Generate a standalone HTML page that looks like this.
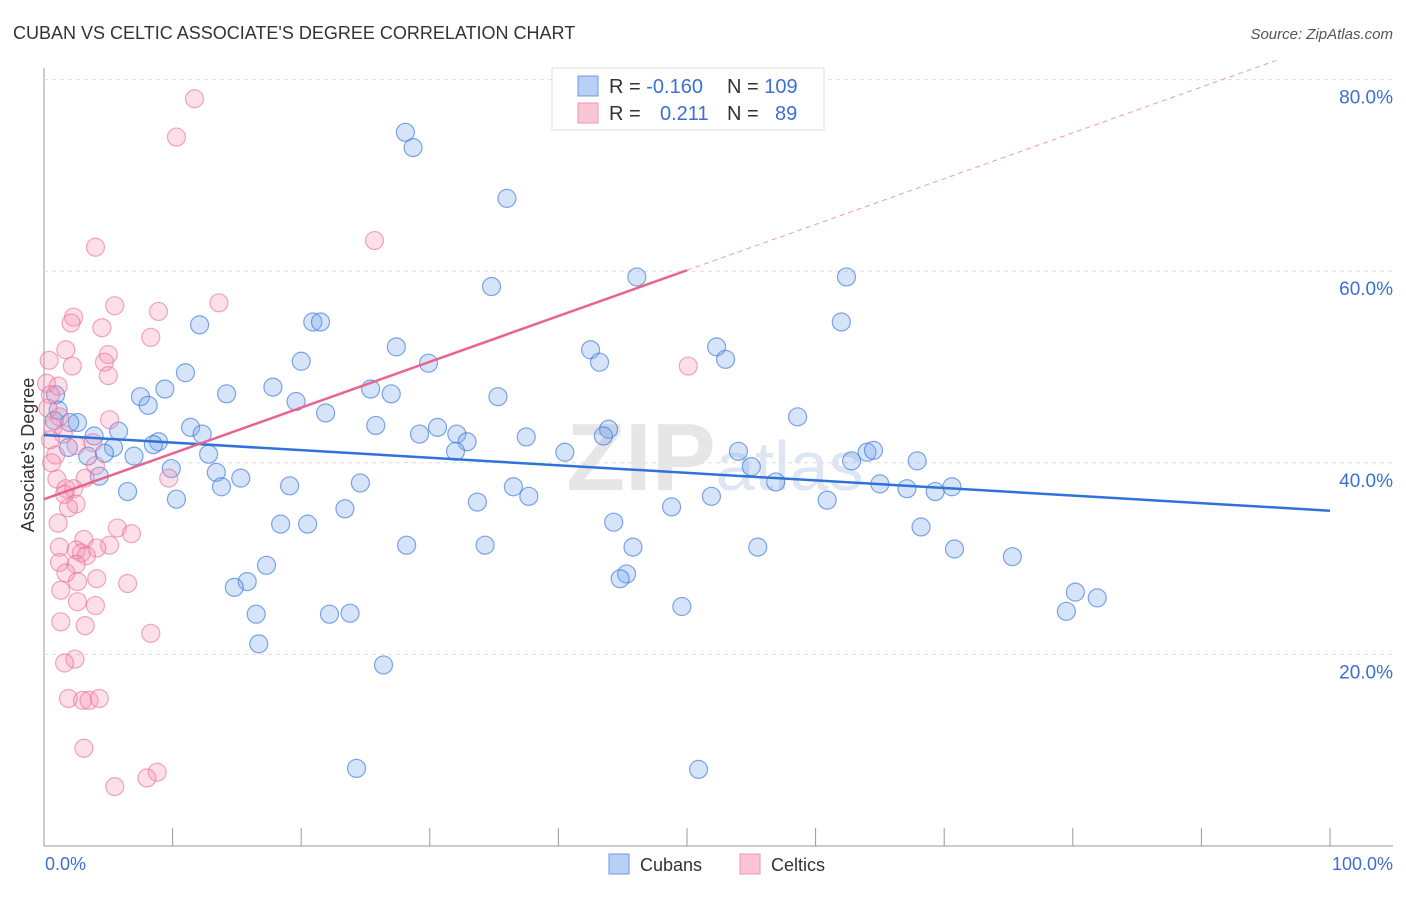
<!DOCTYPE html>
<html><head><meta charset="utf-8"><style>
body{margin:0;background:#fff;font-family:"Liberation Sans",sans-serif;}
svg text{font-family:"Liberation Sans",sans-serif;}
</style></head><body>
<svg id="c" width="1406" height="892">
<text x="13" y="39" font-size="18" fill="#333">CUBAN VS CELTIC ASSOCIATE'S DEGREE CORRELATION CHART</text>
<text x="1393" y="39" font-size="15" fill="#555" font-style="italic" text-anchor="end">Source: ZipAtlas.com</text>
<text x="715" y="490" font-size="96" fill="#e6e6e6" text-anchor="middle" font-weight="bold">ZIP<tspan fill="#dde6f2" font-weight="normal" font-size="70">atlas</tspan></text>
<g id="grid"></g><g id="pts"></g><g id="lines"></g>
<text transform="translate(34,455) rotate(-90)" font-size="18" fill="#333" text-anchor="middle">Associate's Degree</text>
<text x="45" y="870" font-size="18" fill="#3b6fd4">0.0%</text>
<text x="1393" y="870" font-size="18" fill="#3b6fd4" text-anchor="end">100.0%</text>
<g>
<rect x="552" y="68" width="272" height="62" fill="#fff" stroke="#ddd"/>
<rect x="578" y="76" width="20" height="20" fill="#b8d0f4" stroke="#6d9be0"/>
<rect x="578" y="103" width="20" height="20" fill="#f9c6d5" stroke="#ef94b2"/>
<text x="609" y="93" font-size="20" fill="#333">R = <tspan fill="#3b6fd4">-0.160</tspan><tspan x="727">N = </tspan><tspan fill="#3b6fd4">109</tspan></text>
<text x="609" y="120" font-size="20" fill="#333">R = <tspan x="660" fill="#3b6fd4">0.211</tspan><tspan x="727">N = </tspan><tspan x="775" fill="#3b6fd4">89</tspan></text>
</g>
<g><rect x="609" y="854" width="20" height="20" fill="#b8d0f4" stroke="#6d9be0"/><text x="640" y="871" font-size="18" fill="#333">Cubans</text></g>
<g><rect x="740" y="854" width="20" height="20" fill="#f9c6d5" stroke="#ef94b2"/><text x="771" y="871" font-size="18" fill="#333">Celtics</text></g>
</svg>
<script>
const yTicks=[20,40,60,80];
const yTickLabels=["20.0%","40.0%","60.0%","80.0%"];
const xTicks=[0,10,20,30,40,50,60,70,80,90,100];
const cubanX=[28.1,28.7,36.0,34.8,46.1,62.4,62.0,12.1,20.9,21.5,27.4,42.5,43.2,52.3,53.0,20.0,29.9,11.0,17.8,25.4,27.0,9.4,14.2,7.5,8.1,19.6,35.3,21.9,58.6,0.9,1.1,0.8,2.6,2.0,5.8,3.9,11.4,12.3,25.8,30.6,29.2,32.1,32.9,37.5,43.9,43.5,8.9,8.5,5.4,1.9,3.4,4.7,7.0,12.8,32.0,40.5,54.0,64.0,64.5,62.8,67.9,9.9,55.0,13.4,15.3,4.3,13.8,19.1,24.6,36.5,37.7,56.9,65.0,67.1,69.3,70.6,6.5,10.3,33.7,51.9,60.9,48.8,23.4,18.4,20.5,44.3,68.2,28.2,34.3,45.8,55.5,70.8,75.3,17.3,15.8,14.8,45.3,44.8,80.2,81.9,49.6,79.5,16.5,22.2,23.8,16.7,26.4,24.3,50.9];
const cubanY=[74.5,72.9,67.6,58.4,59.4,59.4,54.7,54.4,54.7,54.7,52.1,51.8,50.5,52.1,50.8,50.6,50.4,49.4,47.9,47.7,47.2,47.7,47.2,46.9,46.0,46.4,46.9,45.2,44.8,47.1,45.5,44.4,44.2,44.2,43.3,42.8,43.7,43.0,43.9,43.7,43.0,43.0,42.2,42.7,43.5,42.8,42.2,41.9,41.6,41.6,40.7,41.0,40.7,40.9,41.2,41.1,41.2,41.1,41.3,40.2,40.2,39.4,39.6,39.0,38.4,38.6,37.5,37.6,37.9,37.5,36.5,38.0,37.8,37.3,37.0,37.5,37.0,36.2,35.9,36.5,36.1,35.4,35.2,33.6,33.6,33.8,33.3,31.4,31.4,31.2,31.2,31.0,30.2,29.3,27.6,27.0,28.4,27.9,26.5,25.9,25.0,24.5,24.2,24.2,24.3,21.1,18.9,8.1,8.0];
const celticX=[11.7,10.3,4.0,25.7,13.6,5.5,8.9,2.3,2.1,4.5,8.3,1.7,5.0,0.4,4.7,2.2,50.1,5.0,0.2,1.1,0.5,0.3,1.2,5.1,0.7,1.5,0.5,3.8,2.5,0.9,0.6,4.0,1.0,3.2,9.7,1.7,2.3,1.6,2.5,1.9,1.1,5.7,3.1,6.8,5.1,1.2,4.1,2.5,2.9,3.3,1.2,2.5,1.7,4.1,2.6,6.5,1.3,2.6,4.0,1.3,3.2,8.3,2.4,1.6,1.9,3.0,3.5,4.3,3.1,8.8,8.0,5.5];
const celticY=[78.0,74.0,62.5,63.2,56.7,56.4,55.8,55.2,54.6,54.1,53.1,51.8,51.3,50.7,50.5,50.1,50.1,49.1,48.3,48.0,47.1,45.7,44.8,44.5,43.7,43.0,42.4,42.1,41.8,40.8,40.0,39.7,38.3,38.4,38.4,37.3,37.3,36.7,35.7,35.3,33.7,33.2,32.0,32.6,31.4,31.2,31.1,30.9,30.6,30.3,29.6,29.4,28.5,27.9,27.6,27.4,26.7,25.5,25.1,23.4,23.0,22.2,19.5,19.1,15.4,15.2,15.2,15.4,10.2,7.7,7.1,6.2];
const cubanTrend=[42.9,35.0];
const celticTrend=[36.2,60.1];
const X=v=>44+v*12.86, Y=v=>846-v*9.58;
const ns="http://www.w3.org/2000/svg";
function mk(t,a,p){const e=document.createElementNS(ns,t);for(const k in a)e.setAttribute(k,a[k]);p.appendChild(e);return e;}
const g=document.getElementById('grid');
mk('line',{x1:44,y1:68,x2:44,y2:846,stroke:'#999'},g);
const ax=mk('line',{x1:44,y1:846,x2:1393,y2:846,stroke:'#999'},g);

yTicks.forEach((v,i)=>{
 const l=mk('line',{x1:44,y1:Y(v),x2:1393,y2:Y(v),stroke:'#ddd','stroke-dasharray':'4,4'},g);
 
 
 const t=mk('text',{x:1393,y:Y(v)+24,'font-size':19,fill:'#3b6fd4','text-anchor':'end'},g);
 t.textContent=yTickLabels[i];
 
 
});
xTicks.forEach(v=>{
 const l=mk('line',{x1:X(v),y1:828,x2:X(v),y2:846,stroke:'#999'},g);
 
 
});
const p=document.getElementById('pts');
cubanX.forEach((v,i)=>{
 const c=mk('circle',{cx:X(v),cy:Y(cubanY[i]),r:9,fill:'rgba(120,165,235,0.3)',stroke:'rgba(60,120,220,0.65)','stroke-width':1.2},p);
 
 
});
celticX.forEach((v,i)=>{
 const c=mk('circle',{cx:X(v),cy:Y(celticY[i]),r:9,fill:'rgba(245,150,180,0.3)',stroke:'rgba(235,110,150,0.6)','stroke-width':1.2},p);
 
 
});
const L=document.getElementById('lines');
const b=mk('line',{x1:X(0),y1:Y(cubanTrend[0]),x2:X(100),y2:Y(cubanTrend[1]),stroke:'#2f72d8','stroke-width':2.5},L);


const pk=mk('line',{x1:X(0),y1:Y(celticTrend[0]),x2:X(50),y2:Y(celticTrend[1]),stroke:'#e8648f','stroke-width':2.5},L);


const slope=(celticTrend[1]-celticTrend[0])/50;
const xe=Math.min(100,(82-celticTrend[0])/slope);
const d=mk('line',{x1:X(50),y1:Y(celticTrend[1]),x2:X(xe),y2:Y(celticTrend[0]+slope*xe),stroke:'#ef9ab5','stroke-width':1,'stroke-dasharray':'5,4'},L);


</script>
</body></html>
